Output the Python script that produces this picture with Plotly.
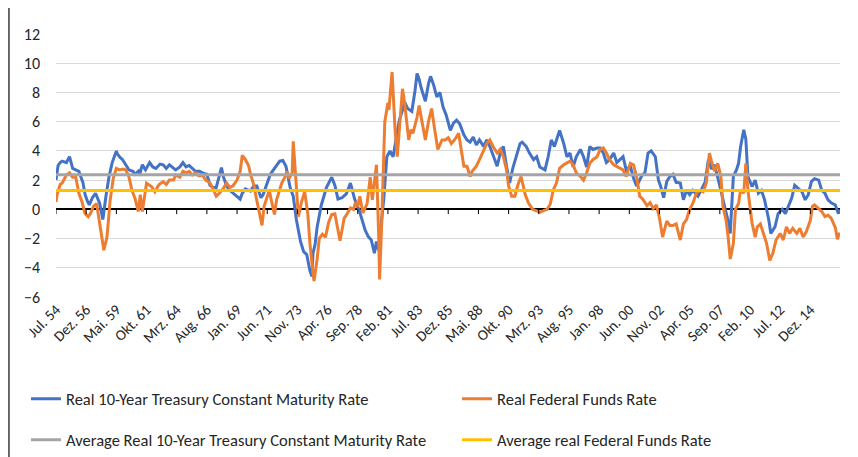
import plotly.graph_objects as go

# ---------------- data ----------------
# x = months since Jul. 1954
tick_labels = ["Jul. 54", "Dez. 56", "Mai. 59", "Okt. 61", "Mrz. 64", "Aug. 66", "Jan. 69",
               "Jun. 71", "Nov. 73", "Apr. 76", "Sep. 78", "Feb. 81", "Jul. 83", "Dez. 85",
               "Mai. 88", "Okt. 90", "Mrz. 93", "Aug. 95", "Jan. 98", "Jun. 00", "Nov. 02",
               "Apr. 05", "Sep. 07", "Feb. 10", "Jul. 12", "Dez. 14"]
tick_step_months = 29
last_month = 753.5

treasury_months = [0, 2, 4, 6, 10, 13, 16, 19, 22, 26, 28, 30, 32, 35, 38, 42, 45, 48, 51, 54, 58, 59, 61, 64,
                   67, 70, 74, 76, 79, 80, 83, 86, 90, 93, 96, 100, 103, 106, 109, 112, 115, 119, 122, 125,
                   128, 131, 134, 138, 142, 145, 148, 151, 154, 157, 159, 161, 164, 167, 170, 173, 177, 179,
                   182, 187, 190, 193, 197, 199, 202, 206, 209, 212, 215, 218, 221, 225, 228, 231, 235, 238,
                   241, 244, 246, 247, 249, 251, 255, 260, 265, 268, 271, 275, 279, 283, 287, 292, 297, 300,
                   303, 306, 308, 310, 313, 315, 318, 321, 324, 327, 330, 333, 335, 338, 342, 345, 347, 349,
                   351, 355, 358, 360, 363, 366, 369, 372, 375, 379, 382, 385, 388, 392, 395, 398, 401, 404,
                   407, 411, 414, 417, 420, 424, 427, 430, 433, 436, 439, 443, 446, 448, 452, 455, 459, 462,
                   465, 470, 473, 476, 479, 484, 488, 491, 494, 497, 500, 504, 507, 510, 513, 516, 520, 523,
                   526, 529, 532, 536, 539, 542, 545, 548, 552, 555, 558, 563, 566, 569, 572, 576, 579, 581,
                   584, 587, 590, 593, 596, 600, 603, 606, 609, 612, 617, 620, 624, 627, 630, 633, 636, 640,
                   643, 645, 648, 649, 651, 654, 656, 658, 661, 663, 665, 669, 672, 675, 678, 681, 685, 687,
                   691, 694, 698, 701, 704, 707, 710, 714, 717, 720, 723, 726, 729, 733, 736, 739, 742, 745,
                   749, 752, 753]
treasury_real = [2.0, 3.0, 3.2, 3.3, 3.2, 3.6, 2.8, 2.7, 2.6, 1.8, 1.0, 0.6, 0.3, 0.8, 1.1, 0.4, -0.7, 0.9, 2.25,
                 3.2, 4.0, 3.8, 3.6, 3.4, 3.05, 2.7, 2.6, 2.4, 2.6, 2.3, 3.05, 2.7, 3.2, 2.9, 2.8, 3.1, 3.05,
                 2.8, 3.05, 2.85, 2.7, 2.9, 3.2, 2.9, 3.0, 2.8, 2.6, 2.6, 2.45, 2.4, 1.65, 1.5, 1.5, 2.3, 2.85,
                 2.2, 1.6, 1.3, 1.1, 0.9, 0.7, 1.1, 1.4, 1.25, 1.6, 1.6, 0.8, 1.0, 1.6, 2.4, 2.7, 3.0, 3.3,
                 3.35, 2.95, 1.5, 0.9, -0.7, -2.2, -2.9, -3.1, -4.2, -4.6, -3.0, -2.4, -1.2, 0.3, 1.5, 2.2,
                 1.65, 0.7, 0.8, 1.05, 1.8, 0.7, -0.2, -1.4, -1.85, -2.1, -3.0, -2.2, -2.8, -0.8, 0.7, 3.6,
                 4.0, 3.6, 4.75, 6.1, 6.8, 7.35, 6.9, 6.7, 8.1, 9.3, 8.9, 8.3, 7.4, 8.6, 9.1, 8.5, 7.7, 8.0,
                 7.0, 6.45, 5.4, 5.9, 6.1, 5.85, 5.1, 4.75, 4.6, 4.95, 4.4, 4.75, 4.3, 4.75, 4.3, 3.75, 2.95,
                 3.85, 4.3, 2.95, 1.8, 2.8, 3.7, 4.5, 4.6, 4.3, 3.85, 3.4, 3.6, 2.9, 2.7, 3.6, 4.75, 4.3, 5.4,
                 4.5, 3.6, 3.85, 2.9, 3.6, 4.1, 3.6, 2.9, 4.3, 4.1, 4.2, 4.2, 3.85, 3.2, 3.4, 3.85, 3.2, 3.4,
                 3.6, 2.7, 2.95, 2.15, 1.6, 2.3, 2.5, 3.85, 4.0, 3.6, 2.0, 1.6, 0.8, 1.9, 2.25, 2.4, 1.85,
                 1.8, 0.65, 1.3, 1.0, 1.3, 0.9, 1.3, 1.9, 3.4, 2.75, 3.05, 2.25, 1.0, 0.05, -0.5, -1.65,
                 -0.5, 2.25, 2.7, 3.15, 4.3, 5.45, 4.8, 2.25, 1.55, 2.0, 1.1, 1.3, 0.65, -0.7, -1.65, -1.2,
                 -0.3, 0.0, -0.3, 0.2, 0.75, 1.65, 1.4, 1.2, 0.65, 1.0, 1.9, 2.1, 2.0, 1.3, 1.1, 0.65, 0.45,
                 0.3, -0.3, 0.0]

fedfunds_months = [0, 1, 4, 6, 10, 13, 16, 19, 22, 25, 28, 31, 33, 36, 39, 42, 44, 46, 49, 52, 55, 58, 61, 64,
                   67, 70, 73, 76, 79, 81, 83, 87, 92, 95, 99, 103, 106, 109, 113, 115, 119, 122, 125, 128,
                   131, 134, 137, 141, 144, 148, 151, 154, 157, 161, 164, 167, 170, 174, 177, 179, 182, 185,
                   187, 190, 193, 195, 198, 200, 202, 205, 207, 210, 212, 215, 217, 220, 222, 224, 227, 228,
                   230, 233, 236, 239, 242, 244, 247, 248, 251, 253, 256, 259, 262, 265, 268, 270, 273, 277,
                   279, 283, 286, 288, 290, 292, 295, 299, 302, 304, 307, 308, 310, 311, 313, 315, 316, 319,
                   320, 323, 325, 326, 328, 331, 333, 335, 339, 341, 343, 347, 349, 352, 355, 358, 361, 364,
                   367, 371, 374, 377, 380, 383, 387, 388, 392, 395, 398, 400, 404, 407, 411, 414, 417, 420,
                   424, 427, 430, 433, 435, 438, 441, 444, 447, 449, 451, 454, 458, 462, 465, 468, 472, 475,
                   478, 481, 484, 488, 491, 494, 497, 500, 504, 507, 510, 513, 516, 520, 523, 526, 529, 532,
                   536, 539, 542, 545, 548, 552, 555, 558, 561, 564, 568, 571, 574, 577, 580, 583, 587, 590,
                   593, 596, 600, 603, 606, 609, 612, 616, 619, 622, 625, 628, 630, 633, 636, 639, 641, 644,
                   646, 648, 651, 653, 656, 658, 661, 663, 665, 669, 672, 674, 677, 680, 683, 686, 689, 692,
                   696, 699, 702, 705, 708, 712, 715, 718, 721, 725, 727, 729, 733, 736, 739, 742, 745, 749,
                   751, 753]
fedfunds_real = [0.5, 1.0, 1.7, 1.8, 2.35, 2.5, 2.2, 2.2, 1.1, 0.5, -0.3, -0.5, -0.3, 0.2, 0.4, -1.0, -2.0,
                 -2.8, -1.9, 0.6, 2.1, 2.8, 2.7, 2.75, 2.7, 2.25, 1.3, 0.75, -0.15, 1.0, -0.15, 1.8, 1.55,
                 1.2, 1.7, 1.9, 1.7, 2.0, 2.0, 2.35, 2.2, 2.6, 2.5, 2.6, 2.35, 2.5, 2.3, 2.3, 2.0, 1.8, 1.4,
                 0.9, 1.1, 1.45, 1.8, 1.5, 1.6, 2.0, 2.6, 3.7, 3.4, 3.0, 2.4, 1.7, 0.6, -0.1, -1.1, 0.2,
                 0.65, 1.3, 0.6, -0.35, 0.65, 1.3, 1.8, 2.2, 2.6, 2.1, 2.5, 4.65, 2.4, -0.5, 0.5, 1.2, -0.3,
                 -2.3, -4.4, -4.9, -3.4, -2.0, -1.7, -1.9, -0.9, -0.35, -0.3, -1.0, -2.15, -0.6, -0.4, 0.1,
                 0.0, 0.5, 0.2, 0.9, -0.25, 0.4, 2.2, 0.65, 2.7, 3.05, -1.5, -4.8, -1.0, 3.0, 6.0, 7.3, 6.8,
                 9.4, 6.5, 5.3, 3.6, 6.6, 8.25, 7.3, 4.75, 5.45, 5.2, 6.3, 7.1, 5.9, 4.75, 6.0, 6.9, 5.45,
                 4.1, 4.75, 4.75, 4.9, 4.5, 4.75, 5.2, 4.75, 2.95, 2.95, 2.25, 2.6, 2.95, 3.4, 4.1, 4.5,
                 4.75, 4.3, 3.85, 4.1, 3.6, 2.7, 1.6, 0.9, 0.9, 1.7, 2.25, 1.6, 1.0, 0.45, 0.0, -0.1, -0.2,
                 -0.1, 0.0, 0.35, 1.35, 1.8, 2.8, 3.05, 3.15, 3.3, 3.05, 2.5, 2.25, 2.0, 2.5, 3.15, 3.4, 3.6,
                 4.1, 4.2, 3.85, 3.4, 3.05, 2.95, 2.8, 2.7, 2.25, 3.15, 3.05, 2.25, 0.9, 0.7, 0.25, 0.45,
                 0.05, 0.3, -0.6, -1.9, -0.8, -1.1, -1.1, -1.0, -2.1, -1.0, -0.7, 0.0, 0.4, 1.2, 1.3, 1.2,
                 1.8, 3.85, 3.3, 2.6, 3.15, 2.25, 0.2, -0.75, -1.9, -3.4, -2.35, 0.0, 0.4, 1.35, 1.1, 3.15,
                 1.3, -0.95, -1.9, -1.2, -1.0, -1.65, -2.35, -3.5, -3.0, -2.1, -1.65, -2.1, -1.2, -1.65,
                 -1.3, -1.65, -1.3, -1.9, -1.55, -0.75, 0.2, 0.3, 0.05, -0.15, -0.5, -0.4, -0.6, -1.25,
                 -2.05, -1.6]

avg_treasury_real = 2.36
avg_fedfunds_real = 1.29

# ---------------- figure ----------------
BLUE = "#4472C4"
ORANGE = "#ED7D31"
GRAY = "#A5A5A5"
YELLOW = "#FFC000"
FONT = "Calibri, Carlito, Roboto, sans-serif"
TEXT = "#262626"

tick_vals = [i * tick_step_months for i in range(len(tick_labels))]
span = [0, last_month]

fig = go.Figure()
fig.add_trace(go.Scatter(x=treasury_months, y=treasury_real, mode="lines",
                         name="Real 10-Year Treasury Constant Maturity Rate",
                         line=dict(color=BLUE, width=3), legend="legend"))
fig.add_trace(go.Scatter(x=fedfunds_months, y=fedfunds_real, mode="lines",
                         name="Real Federal Funds Rate",
                         line=dict(color=ORANGE, width=3), legend="legend2"))
fig.add_trace(go.Scatter(x=span, y=[avg_treasury_real] * 2, mode="lines",
                         name="Average Real 10-Year Treasury Constant Maturity Rate",
                         line=dict(color=GRAY, width=3), legend="legend3"))
fig.add_trace(go.Scatter(x=span, y=[avg_fedfunds_real] * 2, mode="lines",
                         name="Average real Federal Funds Rate",
                         line=dict(color=YELLOW, width=3), legend="legend4"))

shapes = []
# small tick marks hanging below the zero axis line
for v in tick_vals:
    shapes.append(dict(type="line", xref="x", yref="y", x0=v, x1=v, y0=0, y1=-0.33,
                       line=dict(color="black", width=1)))
# outer chart border (left and right edges)
for xp in (-0.0600, 1.0140):
    shapes.append(dict(type="line", xref="paper", yref="paper", x0=xp, x1=xp, y0=-0.61, y1=1.10,
                       line=dict(color="#3a3a3a", width=1.5)))


def legend_box(x, y):
    return dict(orientation="v", xanchor="left", x=x, yanchor="middle", y=y,
                font=dict(family=FONT, size=16.5, color=TEXT),
                bgcolor="rgba(0,0,0,0)", borderwidth=0)


col1_x, col2_x = -0.0383, 0.5115
row1_y, row2_y = -0.388, -0.544

# the page adds an 8 px body margin, so the figure is 8 px smaller than the window
fig.update_layout(
    width=850, height=449,
    margin=dict(l=48, r=18, t=26, b=160, autoexpand=False),
    paper_bgcolor="white", plot_bgcolor="white",
    font=dict(family=FONT, size=16, color=TEXT),
    showlegend=True,
    legend=legend_box(col1_x, row1_y),
    legend2=legend_box(col2_x, row1_y),
    legend3=legend_box(col1_x, row2_y),
    legend4=legend_box(col2_x, row2_y),
    shapes=shapes,
    xaxis=dict(range=span, tickmode="array", tickvals=tick_vals, ticktext=tick_labels,
               tickangle=-45, showgrid=False, zeroline=False, showline=False, ticks="",
               automargin=False, tickfont=dict(family=FONT, size=15, color=TEXT)),
    yaxis=dict(range=[-6, 12], dtick=2, tick0=0, showgrid=True, gridcolor="#D9D9D9", gridwidth=1,
               zeroline=True, zerolinecolor="black", zerolinewidth=2, showline=False, ticks="",
               automargin=False, ticklabelstandoff=15, tickfont=dict(family=FONT, size=16, color=TEXT)),
)

fig.write_html("out.html")
